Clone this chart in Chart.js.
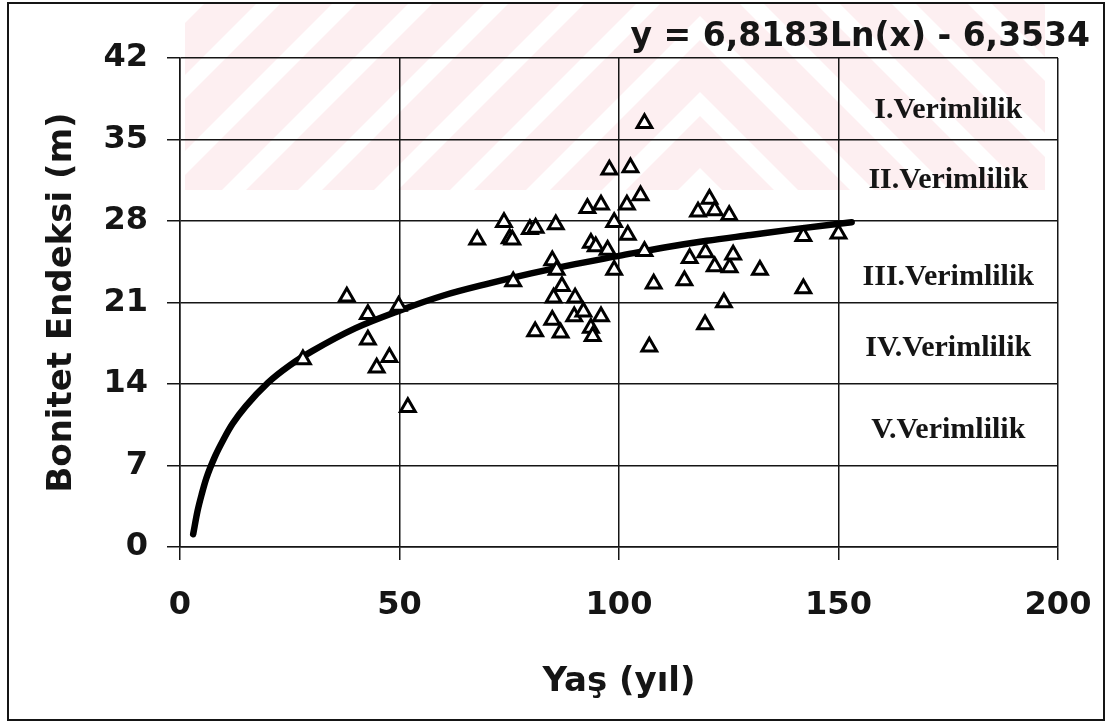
<!DOCTYPE html>
<html>
<head>
<meta charset="utf-8">
<script src="https://cdn.jsdelivr.net/npm/chart.js@4.4.1/dist/chart.umd.min.js"></script>
<style>
  html, body { margin: 0; padding: 0; background: #fff; }
  #wrap { width: 1112px; height: 726px; }
</style>
</head>
<body>
<div id="wrap"><canvas id="myChart" width="1112" height="726"></canvas></div>
<script>
// measured stands: age (years) and site index (m)
const ages = [28.0, 38.0, 42.8, 42.8, 44.8, 47.7, 49.8, 51.9, 67.7, 73.8,
              75.1, 75.7, 75.9, 79.7, 81.0, 80.9, 84.8, 85.8, 85.6, 85.1,
              84.8, 86.7, 87.0, 90.0, 89.8, 91.9, 92.8, 93.6, 93.6, 94.0,
              94.7, 95.9, 95.9, 97.4, 97.8, 98.9, 98.9, 101.8, 102.0, 102.6,
              104.9, 105.8, 105.8, 106.9, 107.9, 114.9, 116.1, 118.0, 119.7, 119.6,
              120.6, 121.8, 121.8, 123.9, 125.1, 125.2, 126.0, 132.1, 142.0, 142.0,
              150.0];
const siteIndex = [16.1, 21.5, 20.0, 17.8, 15.4, 16.3, 20.7, 12.0, 26.4, 27.9,
                   26.5, 26.4, 22.8, 27.3, 27.4, 18.5, 24.6, 23.8, 27.7, 21.4,
                   19.5, 18.4, 22.4, 21.4, 19.8, 20.2, 29.1, 26.1, 18.8, 18.1,
                   25.8, 29.4, 19.8, 25.5, 32.4, 27.9, 23.8, 29.4, 26.8, 32.6,
                   30.2, 36.4, 25.4, 17.2, 22.6, 22.9, 24.8, 28.8, 25.3, 19.1,
                   29.9, 28.9, 24.1, 21.0, 28.5, 24.0, 25.1, 23.8, 26.7, 22.2,
                   26.9];

// trend curve
const curveAges  = [3, 4, 5, 6, 8, 10, 12, 15, 20, 25, 30, 40, 50, 60, 70, 80, 90, 100, 110, 120, 130, 140, 153];
const curveIndex = [1.1, 3.1, 4.6, 5.9, 7.8, 9.3, 10.6, 12.1, 14.1, 15.6, 16.8, 18.8, 20.3, 21.6, 22.6, 23.5, 24.3, 25.0, 25.7, 26.3, 26.8, 27.3, 27.9];

const xTicks = [0, 50, 100, 150, 200];
const yTicks = [0, 7, 14, 21, 28, 35, 42];

const zoneLabels = ['I.Verimlilik', 'II.Verimlilik', 'III.Verimlilik', 'IV.Verimlilik', 'V.Verimlilik'];
const zoneLevels = [37.5, 31.5, 23.2, 17.1, 10.0];
const zoneAge = 175;

const equation = 'y = 6,8183Ln(x) - 6,3534';

Chart.defaults.font.family = 'DejaVu Sans';
Chart.defaults.color = '#111';

const ink = '#151515';

// faint pink stripes of the thesis watermark
function stripe(ctx, x0, dir) {
  ctx.beginPath();
  ctx.moveTo(x0, 0);
  ctx.lineTo(x0 + dir * 52, 0);
  ctx.lineTo(x0 + dir * 52 - dir * 200, 200);
  ctx.lineTo(x0 - dir * 200, 200);
  ctx.closePath();
  ctx.fill();
}

const watermark = {
  id: 'watermark',
  beforeDraw(chart) {
    const ctx = chart.ctx;
    ctx.save();
    ctx.fillStyle = 'rgba(240, 110, 130, 0.11)';
    for (let c = -400; c < 1400; c += 76) {
      ctx.save();
      ctx.beginPath();
      ctx.rect(185, 4, 515, 186);
      ctx.clip();
      stripe(ctx, c, 1);
      ctx.restore();
      ctx.save();
      ctx.beginPath();
      ctx.rect(700, 4, 345, 186);
      ctx.clip();
      stripe(ctx, 1400 - c, -1);
      ctx.restore();
    }
    ctx.restore();
  }
};

const notes = {
  id: 'notes',
  afterDatasetsDraw(chart) {
    const {ctx, chartArea, scales: {x, y}} = chart;
    ctx.save();
    ctx.fillStyle = ink;
    ctx.textAlign = 'center';
    ctx.textBaseline = 'middle';
    ctx.font = 'bold 30px "Liberation Serif"';
    zoneLabels.forEach((t, i) => {
      ctx.fillText(t, x.getPixelForValue(zoneAge), y.getPixelForValue(zoneLevels[i]));
    });
    ctx.font = 'bold 33px "DejaVu Sans"';
    ctx.textAlign = 'right';
    ctx.fillText(equation, chartArea.right + 32, chartArea.top - 21);
    ctx.restore();
  },
  afterDraw(chart) {
    const ctx = chart.ctx;
    ctx.save();
    ctx.strokeStyle = ink;
    ctx.lineWidth = 2;
    ctx.strokeRect(8, 3, 1096, 717);
    ctx.restore();
  }
};

new Chart(document.getElementById('myChart'), {
  type: 'scatter',
  data: {
    datasets: [
      {
        type: 'scatter',
        data: ages.map((a, i) => ({x: a, y: siteIndex[i]})),
        pointStyle: 'triangle',
        pointRadius: 8.5,
        borderWidth: 3,
        borderColor: '#000',
        backgroundColor: '#fff',
        order: 0
      },
      {
        type: 'line',
        data: curveAges.map((a, i) => ({x: a, y: curveIndex[i]})),
        borderColor: '#000',
        borderWidth: 6.5,
        borderCapStyle: 'round',
        pointRadius: 0,
        cubicInterpolationMode: 'monotone',
        fill: false,
        order: 1
      }
    ]
  },
  options: {
    responsive: false,
    devicePixelRatio: 1,
    animation: false,
    layout: { padding: { top: 58, left: 10, right: 54, bottom: 10 } },
    plugins: {
      legend: { display: false },
      tooltip: { enabled: false }
    },
    scales: {
      x: {
        type: 'linear',
        min: 0,
        max: 200,
        afterBuildTicks: s => { s.ticks = xTicks.map(v => ({value: v})); },
        afterFit: s => { s.height = 169; s.paddingLeft = 0; s.paddingRight = 0; },
        grid: { color: ink, lineWidth: 1.5, tickLength: 13 },
        border: { color: ink, width: 1.5 },
        ticks: { font: { size: 32, weight: 'bold' }, color: ink, padding: 26, maxRotation: 0 },
        title: { display: true, text: 'Yaş (yıl)', font: { size: 34, weight: 'bold' }, color: ink, padding: { bottom: 13 } }
      },
      y: {
        type: 'linear',
        min: 0,
        max: 42,
        afterBuildTicks: s => { s.ticks = yTicks.map(v => ({value: v})); },
        afterFit: s => { s.width = 170; s.paddingTop = 0; s.paddingBottom = 0; },
        grid: { color: ink, lineWidth: 1.5, tickLength: 13 },
        border: { color: ink, width: 1.5 },
        ticks: { font: { size: 32, weight: 'bold' }, color: ink, padding: 19 },
        title: { display: true, text: 'Bonitet Endeksi (m)', font: { size: 34, weight: 'bold' }, color: ink, padding: { top: 32 } }
      }
    }
  },
  plugins: [watermark, notes]
});
</script>
</body>
</html>
